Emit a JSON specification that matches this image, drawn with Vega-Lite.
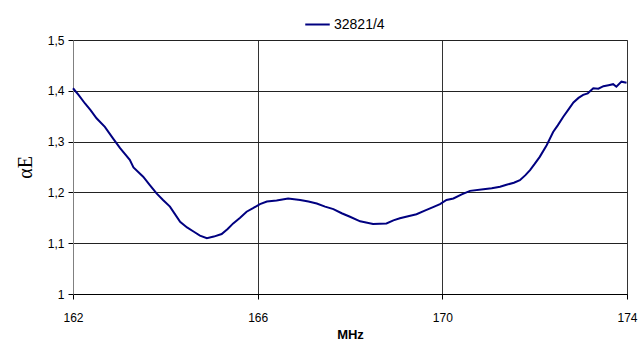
{
  "$schema": "https://vega.github.io/schema/vega-lite/v6.json",
  "width": 554,
  "height": 254,
  "autosize": "none",
  "padding": {"left": 73, "top": 40, "right": 11, "bottom": 49},
  "background": "white",
  "config": {
    "font": "Liberation Sans",
    "view": {"stroke": "#808080", "strokeWidth": 1}
  },
  "data": {
    "values": [
      {"f": 162.0, "v": 1.405, "s": "32821/4"},
      {"f": 162.12, "v": 1.392, "s": "32821/4"},
      {"f": 162.26, "v": 1.375, "s": "32821/4"},
      {"f": 162.38, "v": 1.362, "s": "32821/4"},
      {"f": 162.51, "v": 1.346, "s": "32821/4"},
      {"f": 162.69, "v": 1.329, "s": "32821/4"},
      {"f": 162.87, "v": 1.306, "s": "32821/4"},
      {"f": 163.02, "v": 1.287, "s": "32821/4"},
      {"f": 163.23, "v": 1.264, "s": "32821/4"},
      {"f": 163.31, "v": 1.249, "s": "32821/4"},
      {"f": 163.52, "v": 1.231, "s": "32821/4"},
      {"f": 163.66, "v": 1.215, "s": "32821/4"},
      {"f": 163.81, "v": 1.198, "s": "32821/4"},
      {"f": 163.95, "v": 1.185, "s": "32821/4"},
      {"f": 164.10, "v": 1.172, "s": "32821/4"},
      {"f": 164.32, "v": 1.142, "s": "32821/4"},
      {"f": 164.47, "v": 1.131, "s": "32821/4"},
      {"f": 164.61, "v": 1.123, "s": "32821/4"},
      {"f": 164.75, "v": 1.115, "s": "32821/4"},
      {"f": 164.90, "v": 1.110, "s": "32821/4"},
      {"f": 165.05, "v": 1.113, "s": "32821/4"},
      {"f": 165.22, "v": 1.118, "s": "32821/4"},
      {"f": 165.35, "v": 1.128, "s": "32821/4"},
      {"f": 165.47, "v": 1.139, "s": "32821/4"},
      {"f": 165.62, "v": 1.150, "s": "32821/4"},
      {"f": 165.76, "v": 1.162, "s": "32821/4"},
      {"f": 165.90, "v": 1.169, "s": "32821/4"},
      {"f": 166.05, "v": 1.177, "s": "32821/4"},
      {"f": 166.20, "v": 1.182, "s": "32821/4"},
      {"f": 166.41, "v": 1.184, "s": "32821/4"},
      {"f": 166.66, "v": 1.188, "s": "32821/4"},
      {"f": 166.92, "v": 1.185, "s": "32821/4"},
      {"f": 167.10, "v": 1.182, "s": "32821/4"},
      {"f": 167.28, "v": 1.178, "s": "32821/4"},
      {"f": 167.46, "v": 1.172, "s": "32821/4"},
      {"f": 167.64, "v": 1.167, "s": "32821/4"},
      {"f": 167.82, "v": 1.159, "s": "32821/4"},
      {"f": 168.00, "v": 1.152, "s": "32821/4"},
      {"f": 168.22, "v": 1.143, "s": "32821/4"},
      {"f": 168.50, "v": 1.138, "s": "32821/4"},
      {"f": 168.79, "v": 1.139, "s": "32821/4"},
      {"f": 168.94, "v": 1.145, "s": "32821/4"},
      {"f": 169.08, "v": 1.149, "s": "32821/4"},
      {"f": 169.26, "v": 1.153, "s": "32821/4"},
      {"f": 169.44, "v": 1.157, "s": "32821/4"},
      {"f": 169.62, "v": 1.164, "s": "32821/4"},
      {"f": 169.80, "v": 1.171, "s": "32821/4"},
      {"f": 169.95, "v": 1.177, "s": "32821/4"},
      {"f": 170.09, "v": 1.185, "s": "32821/4"},
      {"f": 170.24, "v": 1.188, "s": "32821/4"},
      {"f": 170.42, "v": 1.196, "s": "32821/4"},
      {"f": 170.60, "v": 1.203, "s": "32821/4"},
      {"f": 170.89, "v": 1.206, "s": "32821/4"},
      {"f": 171.07, "v": 1.208, "s": "32821/4"},
      {"f": 171.25, "v": 1.211, "s": "32821/4"},
      {"f": 171.39, "v": 1.215, "s": "32821/4"},
      {"f": 171.55, "v": 1.219, "s": "32821/4"},
      {"f": 171.68, "v": 1.224, "s": "32821/4"},
      {"f": 171.80, "v": 1.234, "s": "32821/4"},
      {"f": 171.90, "v": 1.244, "s": "32821/4"},
      {"f": 172.00, "v": 1.256, "s": "32821/4"},
      {"f": 172.11, "v": 1.270, "s": "32821/4"},
      {"f": 172.26, "v": 1.293, "s": "32821/4"},
      {"f": 172.40, "v": 1.319, "s": "32821/4"},
      {"f": 172.50, "v": 1.332, "s": "32821/4"},
      {"f": 172.62, "v": 1.349, "s": "32821/4"},
      {"f": 172.73, "v": 1.363, "s": "32821/4"},
      {"f": 172.84, "v": 1.377, "s": "32821/4"},
      {"f": 172.95, "v": 1.386, "s": "32821/4"},
      {"f": 173.05, "v": 1.392, "s": "32821/4"},
      {"f": 173.15, "v": 1.395, "s": "32821/4"},
      {"f": 173.27, "v": 1.405, "s": "32821/4"},
      {"f": 173.38, "v": 1.404, "s": "32821/4"},
      {"f": 173.49, "v": 1.409, "s": "32821/4"},
      {"f": 173.60, "v": 1.411, "s": "32821/4"},
      {"f": 173.70, "v": 1.413, "s": "32821/4"},
      {"f": 173.77, "v": 1.408, "s": "32821/4"},
      {"f": 173.88, "v": 1.418, "s": "32821/4"},
      {"f": 173.99, "v": 1.416, "s": "32821/4"}
    ]
  },
  "mark": {"type": "line", "strokeWidth": 2, "interpolate": "linear"},
  "encoding": {
    "x": {
      "field": "f",
      "type": "quantitative",
      "scale": {"domain": [162, 174], "nice": false, "zero": false},
      "axis": {
        "values": [162, 166, 170, 174],
        "title": "MHz",
        "titleFont": "Liberation Sans",
        "titleFontSize": 13,
        "titleFontWeight": "bold",
        "titleColor": "#000",
        "titlePadding": 5,
        "labelFontSize": 12,
        "labelColor": "#000",
        "labelPadding": 13,
        "labelFlush": false,
        "tickSize": 5,
        "tickColor": "#000",
        "domainColor": "#000",
        "gridColor": "#333",
        "gridOpacity": 1
      }
    },
    "y": {
      "field": "v",
      "type": "quantitative",
      "scale": {"domain": [1, 1.5], "nice": false, "zero": false},
      "axis": {
        "values": [1, 1.1, 1.2, 1.3, 1.4, 1.5],
        "labelExpr": "replace(format(datum.value, '.1~f'), '.', ',')",
        "title": "αE",
        "titleFont": "Liberation Serif",
        "titleFontSize": 20,
        "titleFontWeight": "normal",
        "titleColor": "#000",
        "titlePadding": 12,
        "labelFontSize": 12,
        "labelColor": "#000",
        "labelPadding": 4,
        "labelFlush": false,
        "tickSize": 5,
        "tickColor": "#000",
        "domainColor": "#808080",
        "gridColor": "#222",
        "gridOpacity": 1
      }
    },
    "color": {
      "field": "s",
      "type": "nominal",
      "scale": {"range": ["#000080"]},
      "legend": {
        "title": null,
        "orient": "none",
        "legendX": 231,
        "legendY": -29,
        "symbolType": "stroke",
        "symbolStrokeWidth": 2,
        "symbolSize": 600,
        "labelFontSize": 14,
        "labelOffset": 3,
        "labelColor": "#000",
        "labelFont": "Liberation Sans"
      }
    }
  }
}
